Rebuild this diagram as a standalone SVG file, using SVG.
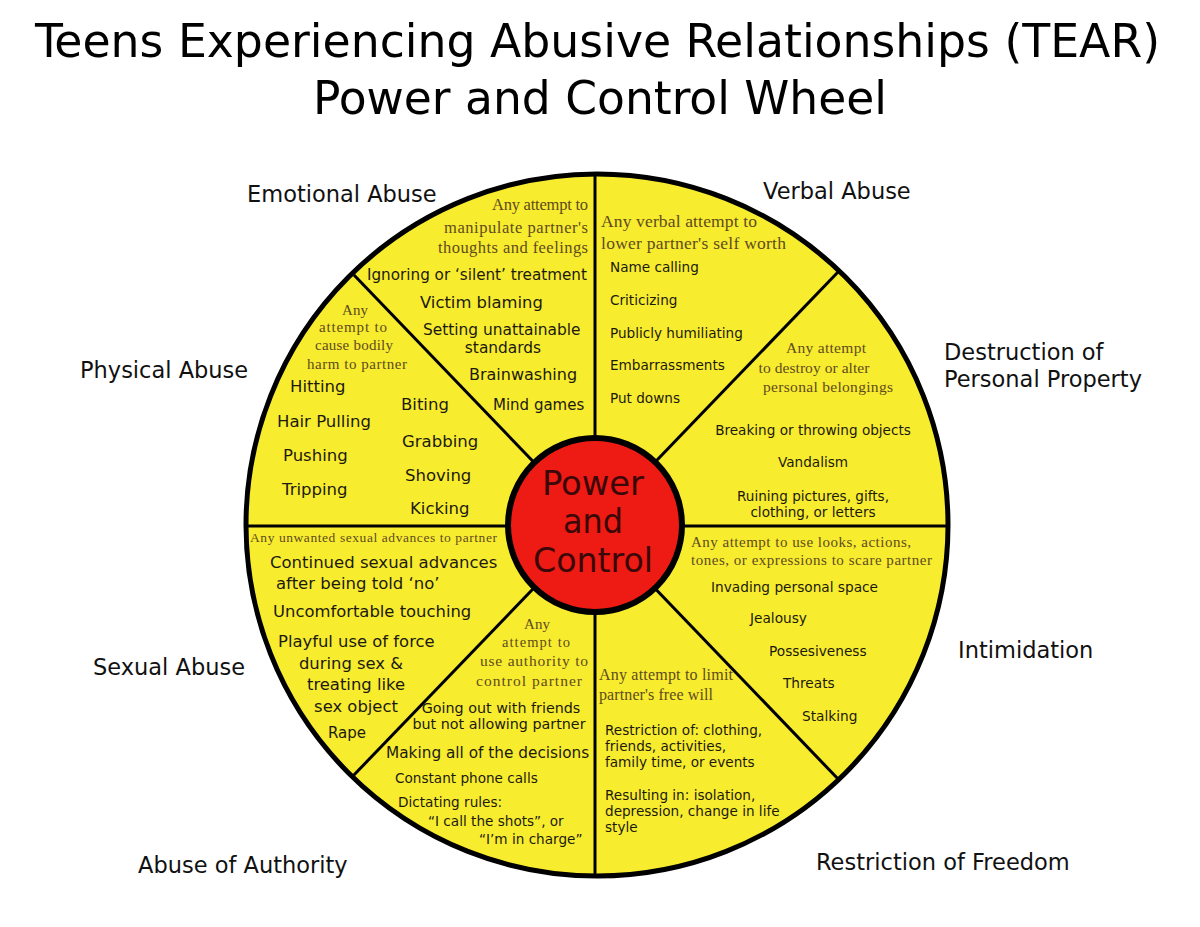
<svg xmlns="http://www.w3.org/2000/svg" width="1200" height="927" viewBox="0 0 1200 927">
<style>
.t{font-family:"DejaVu Sans Condensed","DejaVu Sans",sans-serif;fill:#000}
.lb{font-family:"DejaVu Sans",Verdana,sans-serif;font-size:22.5px;fill:#111}
.s{font-family:"DejaVu Sans",Verdana,sans-serif;fill:#1c1a10}
.f{font-family:"Liberation Serif","DejaVu Serif",serif;fill:#5e4b1f}
.m{text-anchor:middle}
.e{text-anchor:end}
.sp{stroke:#000;stroke-width:3;fill:none}
.c{fill:#3a0808}
</style>
<rect width="1200" height="927" fill="#fff"/>
<g id="title">
<text class="t" x="35" y="57" font-size="47" textLength="1125" lengthAdjust="spacingAndGlyphs">Teens Experiencing Abusive Relationships (TEAR)</text>
<text class="t" x="313" y="114" font-size="47" textLength="574" lengthAdjust="spacingAndGlyphs">Power and Control Wheel</text>
</g>
<circle id="wheel" cx="597" cy="525" r="351" fill="#f8ec2e"/>
<g id="connectors">
<line class="sp" x1="595" y1="173" x2="595" y2="878"/>
<line class="sp" x1="245" y1="526" x2="948" y2="526"/>
<line class="sp" x1="354" y1="275" x2="840" y2="781"/>
<line class="sp" x1="839" y1="271" x2="352" y2="777"/>
</g>
<circle cx="597" cy="525" r="351" fill="none" stroke="#000" stroke-width="5"/>
<g id="center">
<circle cx="595" cy="525" r="87" fill="#ee1a14" stroke="#000" stroke-width="6"/>
<text class="t m c" x="593" y="495" font-size="34" textLength="102" lengthAdjust="spacingAndGlyphs">Power</text>
<text class="t m c" x="593" y="533" font-size="34" textLength="60" lengthAdjust="spacingAndGlyphs">and</text>
<text class="t m c" x="593" y="572" font-size="34" textLength="120" lengthAdjust="spacingAndGlyphs">Control</text>
</g>
<g id="emotional">
<text class="lb" x="247" y="202">Emotional Abuse</text>
<text class="f e" x="588" y="210" font-size="16.5" textLength="96">Any attempt to</text>
<text class="f e" x="588" y="233" font-size="16.5" textLength="144">manipulate partner's</text>
<text class="f e" x="588" y="253" font-size="16.5" textLength="150">thoughts and feelings</text>
<text class="s" x="367" y="280" font-size="15.2">Ignoring or ‘silent’ treatment</text>
<text class="s" x="420" y="308" font-size="16.4">Victim blaming</text>
<text class="s" x="423" y="335" font-size="15.4">Setting unattainable</text>
<text class="s m" x="503" y="353" font-size="15.4">standards</text>
<text class="s" x="469" y="380" font-size="16">Brainwashing</text>
<text class="s" x="493" y="410" font-size="15">Mind games</text>
</g>
<g id="physical">
<text class="lb" x="80" y="378">Physical Abuse</text>
<text class="f m" x="355" y="315" font-size="15">Any</text>
<text class="f m" x="353" y="332" font-size="15" textLength="68">attempt to</text>
<text class="f m" x="354" y="350" font-size="15" textLength="78">cause bodily</text>
<text class="f m" x="357" y="369" font-size="15" textLength="100">harm to partner</text>
<text class="s" x="290" y="392" font-size="16.5">Hitting</text>
<text class="s" x="277" y="427" font-size="16.5">Hair Pulling</text>
<text class="s" x="283" y="461" font-size="16.5">Pushing</text>
<text class="s" x="282" y="495" font-size="16.5">Tripping</text>
<text class="s" x="401" y="410" font-size="16.5">Biting</text>
<text class="s" x="402" y="447" font-size="16.5">Grabbing</text>
<text class="s" x="405" y="481" font-size="16.5">Shoving</text>
<text class="s" x="410" y="514" font-size="16.5">Kicking</text>
</g>
<g id="verbal">
<text class="lb" x="763" y="199">Verbal Abuse</text>
<text class="f" x="601" y="227" font-size="17.5" textLength="156">Any verbal attempt to</text>
<text class="f" x="601" y="249" font-size="17.5" textLength="185">lower partner's self worth</text>
<text class="s" x="610" y="272" font-size="13.6">Name calling</text>
<text class="s" x="610" y="305" font-size="13.6">Criticizing</text>
<text class="s" x="610" y="338" font-size="13.6">Publicly humiliating</text>
<text class="s" x="610" y="370" font-size="13.6">Embarrassments</text>
<text class="s" x="610" y="403" font-size="13.6">Put downs</text>
</g>
<g id="destruction">
<text class="lb" x="944" y="360">Destruction of</text>
<text class="lb" x="944" y="387">Personal Property</text>
<text class="f m" x="826" y="353" font-size="15.5" textLength="80">Any attempt</text>
<text class="f m" x="814" y="373" font-size="15.5" textLength="111">to destroy or alter</text>
<text class="f m" x="828" y="392" font-size="15.5" textLength="130">personal belongings</text>
<text class="s m" x="813" y="435" font-size="13.6">Breaking or throwing objects</text>
<text class="s m" x="813" y="467" font-size="13.6">Vandalism</text>
<text class="s m" x="813" y="501" font-size="13.6">Ruining pictures, gifts,</text>
<text class="s m" x="813" y="517" font-size="13.6">clothing, or letters</text>
</g>
<g id="sexual">
<text class="lb" x="93" y="675">Sexual Abuse</text>
<text class="f" x="250" y="542" font-size="13.5" textLength="247">Any unwanted sexual advances to partner</text>
<text class="s" x="270" y="568" font-size="16.5">Continued sexual advances</text>
<text class="s" x="276" y="589" font-size="16.5">after being told ‘no’</text>
<text class="s" x="273" y="617" font-size="16.4">Uncomfortable touching</text>
<text class="s" x="278" y="647" font-size="16.4">Playful use of force</text>
<text class="s m" x="351" y="669" font-size="16.4">during sex &amp;</text>
<text class="s m" x="356" y="690" font-size="16.4">treating like</text>
<text class="s m" x="356" y="712" font-size="16.4">sex object</text>
<text class="s m" x="347" y="738" font-size="15">Rape</text>
</g>
<g id="authority">
<text class="lb" x="138" y="873">Abuse of Authority</text>
<text class="f m" x="537" y="629" font-size="15">Any</text>
<text class="f m" x="536" y="647" font-size="14.5" textLength="68">attempt to</text>
<text class="f m" x="534" y="666" font-size="15.5" textLength="108">use authority to</text>
<text class="f m" x="529" y="686" font-size="15.5" textLength="106">control partner</text>
<text class="s m" x="501" y="713" font-size="14.3">Going out with friends</text>
<text class="s m" x="499" y="729" font-size="14.3">but not allowing partner</text>
<text class="s" x="386" y="758" font-size="15.3">Making all of the decisions</text>
<text class="s" x="395" y="783" font-size="13.6">Constant phone calls</text>
<text class="s" x="398" y="807" font-size="13.6">Dictating rules:</text>
<text class="s" x="428" y="826" font-size="13.6">“I call the shots”, or</text>
<text class="s" x="479" y="844" font-size="13.6">“I’m in charge”</text>
</g>
<g id="intimidation">
<text class="lb" x="958" y="658">Intimidation</text>
<text class="f" x="691" y="547" font-size="15" textLength="220">Any attempt to use looks, actions,</text>
<text class="f" x="691" y="565" font-size="15" textLength="241">tones, or expressions to scare partner</text>
<text class="s" x="711" y="592" font-size="13.7">Invading personal space</text>
<text class="s" x="750" y="623" font-size="13.7">Jealousy</text>
<text class="s" x="769" y="656" font-size="13.7">Possesiveness</text>
<text class="s" x="783" y="688" font-size="13.7">Threats</text>
<text class="s" x="802" y="721" font-size="13.7">Stalking</text>
</g>
<g id="restriction">
<text class="lb" x="816" y="870">Restriction of Freedom</text>
<text class="f" x="599" y="680" font-size="16" textLength="134">Any attempt to limit</text>
<text class="f" x="599" y="700" font-size="16" textLength="114">partner's free will</text>
<text class="s" x="605" y="735" font-size="13.6">Restriction of: clothing,</text>
<text class="s" x="605" y="751" font-size="13.6">friends, activities,</text>
<text class="s" x="605" y="767" font-size="13.6">family time, or events</text>
<text class="s" x="605" y="800" font-size="13.6">Resulting in: isolation,</text>
<text class="s" x="605" y="816" font-size="13.6">depression, change in life</text>
<text class="s" x="605" y="832" font-size="13.6">style</text>
</g>
</svg>
